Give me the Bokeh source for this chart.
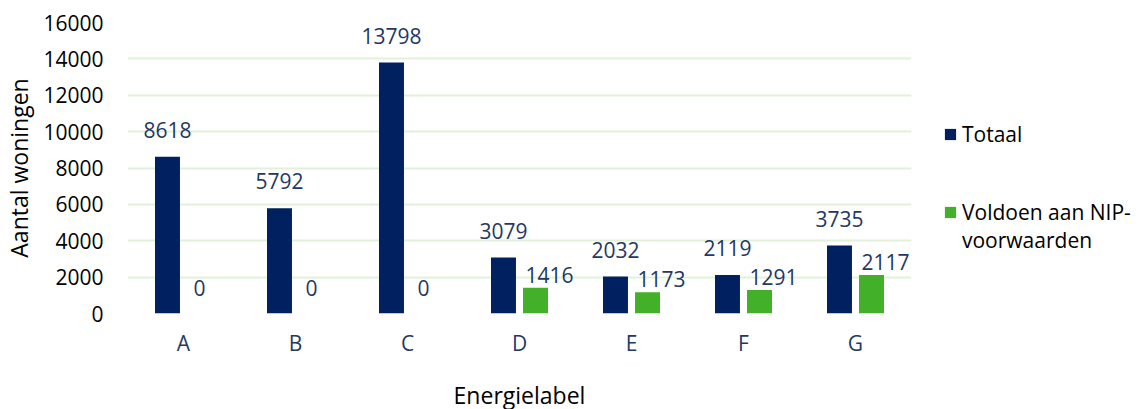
from bokeh.plotting import figure
from bokeh.models import ColumnDataSource, FactorRange, Range1d, LabelSet, Legend, LegendItem
from bokeh.transform import dodge
from bokeh.core.properties import value
from bokeh.embed import file_html
from bokeh.resources import INLINE

# ---- data ----
labels = ["A", "B", "C", "D", "E", "F", "G"]
totaal = [8618, 5792, 13798, 3079, 2032, 2119, 3735]
nip = [0, 0, 0, 1416, 1173, 1291, 2117]
series_names = ["Totaal", " \nVoldoen aan NIP-\nvoorwaarden"]
y_ticks = [0, 2000, 4000, 6000, 8000, 10000, 12000, 14000, 16000]

NAVY = "#002060"
GREEN = "#43B02A"
LABEL_NAVY = "#1F3864"
FONT = "Open Sans"
FS = "21px"
TITLE_FS = "23px"

src = ColumnDataSource(dict(
    cat=labels, totaal=totaal, nip=nip,
    totaal_txt=[str(v) for v in totaal], nip_txt=[str(v) for v in nip],
    nip_dx=[14 if v > 0 else 0 for v in nip],
    nip_dy=[5 if v > 0 else 18 for v in nip],
))

p = figure(x_range=FactorRange(*labels), y_range=Range1d(0, 16000),
           frame_width=784, frame_height=291,
           min_border_left=121, min_border_right=218, min_border_top=22, min_border_bottom=90,
           output_backend="svg", toolbar_location=None, tools="")
p.outline_line_color = None
p.background_fill_color = "white"

r1 = p.vbar(x=dodge("cat", -0.143, range=p.x_range), top="totaal", width=0.223,
            source=src, fill_color=NAVY, line_color=None)
r2 = p.vbar(x=dodge("cat", 0.143, range=p.x_range), top="nip", width=0.223,
            source=src, fill_color=GREEN, line_color=None)

lab1 = LabelSet(x=dodge("cat", -0.143, range=p.x_range), y="totaal", text="totaal_txt",
                source=src, text_align="center", text_baseline="alphabetic", y_offset=19,
                text_font=value(FONT), text_font_size=FS, text_color=LABEL_NAVY)
lab2 = LabelSet(x=dodge("cat", 0.143, range=p.x_range), y="nip", text="nip_txt",
                source=src, text_align="center", text_baseline="alphabetic",
                x_offset="nip_dx", y_offset="nip_dy",
                text_font=value(FONT), text_font_size=FS, text_color=LABEL_NAVY)
p.add_layout(lab1)
p.add_layout(lab2)

# axes
p.yaxis.ticker = y_ticks
p.yaxis.axis_line_color = None
p.yaxis.major_tick_line_color = None
p.yaxis.minor_tick_line_color = None
p.yaxis.major_label_standoff = 18
p.yaxis.major_label_text_font = FONT
p.yaxis.major_label_text_font_size = FS
p.yaxis.major_label_text_color = "#000000"
p.yaxis.axis_label = "Aantal woningen"
p.yaxis.axis_label_text_font = FONT
p.yaxis.axis_label_text_font_size = TITLE_FS
p.yaxis.axis_label_text_font_style = "normal"
p.yaxis.axis_label_text_color = "#000000"
p.yaxis.axis_label_standoff = 5

p.xaxis.axis_line_color = None
p.xaxis.major_tick_line_color = None
p.xaxis.major_label_standoff = 9
p.xaxis.major_label_text_font = FONT
p.xaxis.major_label_text_font_size = FS
p.xaxis.major_label_text_color = LABEL_NAVY
p.xaxis.axis_label = "Energielabel"
p.xaxis.axis_label_text_font = FONT
p.xaxis.axis_label_text_font_size = TITLE_FS
p.xaxis.axis_label_text_font_style = "normal"
p.xaxis.axis_label_text_color = "#000000"
p.xaxis.axis_label_standoff = 19

p.xgrid.grid_line_color = None
p.ygrid.grid_line_color = "#E2F2DA"
p.ygrid.grid_line_width = 2

# legend
legend = Legend(items=[LegendItem(label=series_names[0], renderers=[r1]),
                       LegendItem(label=series_names[1], renderers=[r2])],
                location=(32, 59), border_line_color=None, background_fill_alpha=0,
                padding=0, margin=0, spacing=22, glyph_width=14, glyph_height=14,
                label_standoff=5, label_height=28, label_text_font=FONT,
                label_text_font_size=FS, label_text_color="#000000")
p.add_layout(legend, "right")

open("out.html", "w").write(file_html(p, INLINE))
